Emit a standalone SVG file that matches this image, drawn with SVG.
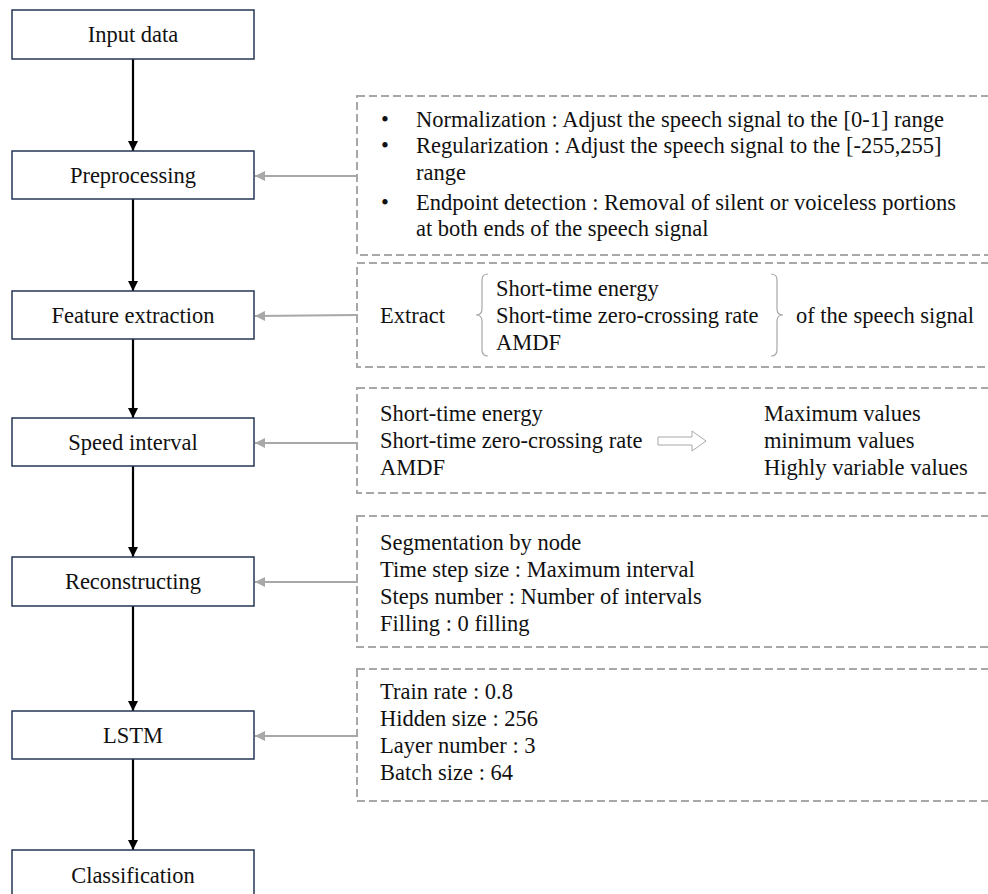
<svg xmlns="http://www.w3.org/2000/svg" width="988" height="894" viewBox="0 0 988 894">
  <style>
    .node rect { fill: #ffffff; stroke: #243656; stroke-width: 1.5; }
    .node text { font-family: 'Liberation Serif', 'Times New Roman', serif; font-size: 22.5px; fill: #111111; text-anchor: middle; }
    .note rect { fill: none; stroke: #a8a8a8; stroke-width: 2; stroke-dasharray: 8 4; }
    .note text { font-family: 'Liberation Serif', 'Times New Roman', serif; font-size: 22.5px; fill: #111111; }
    .flow { stroke: #000000; stroke-width: 2.2; fill: none; }
    .side { stroke: #a8a8a8; stroke-width: 2; fill: none; }
    .brace { stroke: #a8a8a8; stroke-width: 1.2; fill: none; }
  </style>
  <defs>
    <marker id="arrowBlack" viewBox="0 0 10 10" refX="10" refY="5" markerWidth="10" markerHeight="12" markerUnits="userSpaceOnUse" orient="auto">
      <path d="M0,0 L10,5 L0,10 Z" fill="#000000"/>
    </marker>
    <marker id="arrowGray" viewBox="0 0 10 10" refX="10" refY="5" markerWidth="12" markerHeight="10" markerUnits="userSpaceOnUse" orient="auto">
      <path d="M0,0 L10,5 L0,10 Z" fill="#a8a8a8"/>
    </marker>
  </defs>

  <rect x="0" y="0" width="988" height="894" fill="#ffffff"/>

  <!-- pipeline connectors: black flow arrows down the left column, grey detail arrows into each step -->
  <g id="connectors">
    <line class="flow" x1="133" y1="59" x2="133" y2="151" marker-end="url(#arrowBlack)"/>
    <line class="flow" x1="133" y1="199" x2="133" y2="291" marker-end="url(#arrowBlack)"/>
    <line class="flow" x1="133" y1="339" x2="133" y2="418" marker-end="url(#arrowBlack)"/>
    <line class="flow" x1="133" y1="466" x2="133" y2="557" marker-end="url(#arrowBlack)"/>
    <line class="flow" x1="133" y1="606" x2="133" y2="711" marker-end="url(#arrowBlack)"/>
    <line class="flow" x1="133" y1="759" x2="133" y2="850" marker-end="url(#arrowBlack)"/>

    <line class="side" x1="358" y1="176" x2="255" y2="176" marker-end="url(#arrowGray)"/>
    <line class="side" x1="358" y1="315" x2="255" y2="316" marker-end="url(#arrowGray)"/>
    <line class="side" x1="358" y1="443" x2="255" y2="443" marker-end="url(#arrowGray)"/>
    <line class="side" x1="358" y1="582" x2="255" y2="582" marker-end="url(#arrowGray)"/>
    <line class="side" x1="358" y1="736" x2="255" y2="736" marker-end="url(#arrowGray)"/>
  </g>

  <!-- pipeline steps -->
  <g id="input-data" class="node">
    <rect x="12" y="10" width="242" height="49"/>
    <text x="133" y="42">Input data</text>
  </g>
  <g id="preprocessing" class="node">
    <rect x="12" y="151" width="242" height="48"/>
    <text x="133" y="183">Preprocessing</text>
  </g>
  <g id="feature-extraction" class="node">
    <rect x="12" y="291" width="242" height="48"/>
    <text x="133" y="323">Feature extraction</text>
  </g>
  <g id="speed-interval" class="node">
    <rect x="12" y="418" width="242" height="48"/>
    <text x="133" y="450">Speed interval</text>
  </g>
  <g id="reconstructing" class="node">
    <rect x="12" y="557" width="242" height="49"/>
    <text x="133" y="589">Reconstructing</text>
  </g>
  <g id="lstm" class="node">
    <rect x="12" y="711" width="242" height="48"/>
    <text x="133" y="743">LSTM</text>
  </g>
  <g id="classification" class="node">
    <rect x="12" y="850" width="242" height="50"/>
    <text x="133" y="883">Classification</text>
  </g>

  <!-- preprocessing details -->
  <g id="note-preprocessing" class="note">
    <rect x="357" y="96" width="640" height="159"/>
    <text x="381" y="127">•</text>
    <text x="416" y="127">Normalization : Adjust the speech signal to the [0-1] range</text>
    <text x="381" y="153">•</text>
    <text x="416" y="153">Regularization : Adjust the speech signal to the [-255,255]</text>
    <text x="416" y="180">range</text>
    <text x="381" y="210">•</text>
    <text x="416" y="210">Endpoint detection : Removal of silent or voiceless portions</text>
    <text x="416" y="236">at both ends of the speech signal</text>
  </g>

  <!-- feature extraction details -->
  <g id="note-features" class="note">
    <rect x="357" y="263" width="640" height="104"/>
    <text x="380" y="323">Extract</text>
    <path class="brace" d="M488,274 Q482,274 482,280 L482,309 Q482,315 476,315 Q482,315 482,321 L482,350 Q482,356 488,356"/>
    <text x="496" y="296">Short-time energy</text>
    <text x="496" y="323">Short-time zero-crossing rate</text>
    <text x="496" y="350">AMDF</text>
    <path class="brace" d="M771,274 Q777,274 777,280 L777,309 Q777,315 783,315 Q777,315 777,321 L777,350 Q777,356 771,356"/>
    <text x="796" y="323">of the speech signal</text>
  </g>

  <!-- speed interval details -->
  <g id="note-interval" class="note">
    <rect x="357" y="388" width="640" height="105"/>
    <text x="380" y="421">Short-time energy</text>
    <text x="380" y="448">Short-time zero-crossing rate</text>
    <text x="380" y="475">AMDF</text>
    <path d="M658,437 L692,437 L692,431 L706,441 L692,451 L692,445 L658,445 Z" fill="#ffffff" stroke="#a8a8a8" stroke-width="1"/>
    <text x="764" y="421">Maximum values</text>
    <text x="764" y="448">minimum values</text>
    <text x="764" y="475">Highly variable values</text>
  </g>

  <!-- reconstruction details -->
  <g id="note-reconstructing" class="note">
    <rect x="357" y="516" width="640" height="131"/>
    <text x="380" y="550">Segmentation by node</text>
    <text x="380" y="577">Time step size : Maximum interval</text>
    <text x="380" y="604">Steps number : Number of intervals</text>
    <text x="380" y="631">Filling : 0 filling</text>
  </g>

  <!-- LSTM settings -->
  <g id="note-lstm" class="note">
    <rect x="357" y="669" width="640" height="132"/>
    <text x="380" y="699">Train rate : 0.8</text>
    <text x="380" y="726">Hidden size : 256</text>
    <text x="380" y="753">Layer number : 3</text>
    <text x="380" y="780">Batch size : 64</text>
  </g>
</svg>
